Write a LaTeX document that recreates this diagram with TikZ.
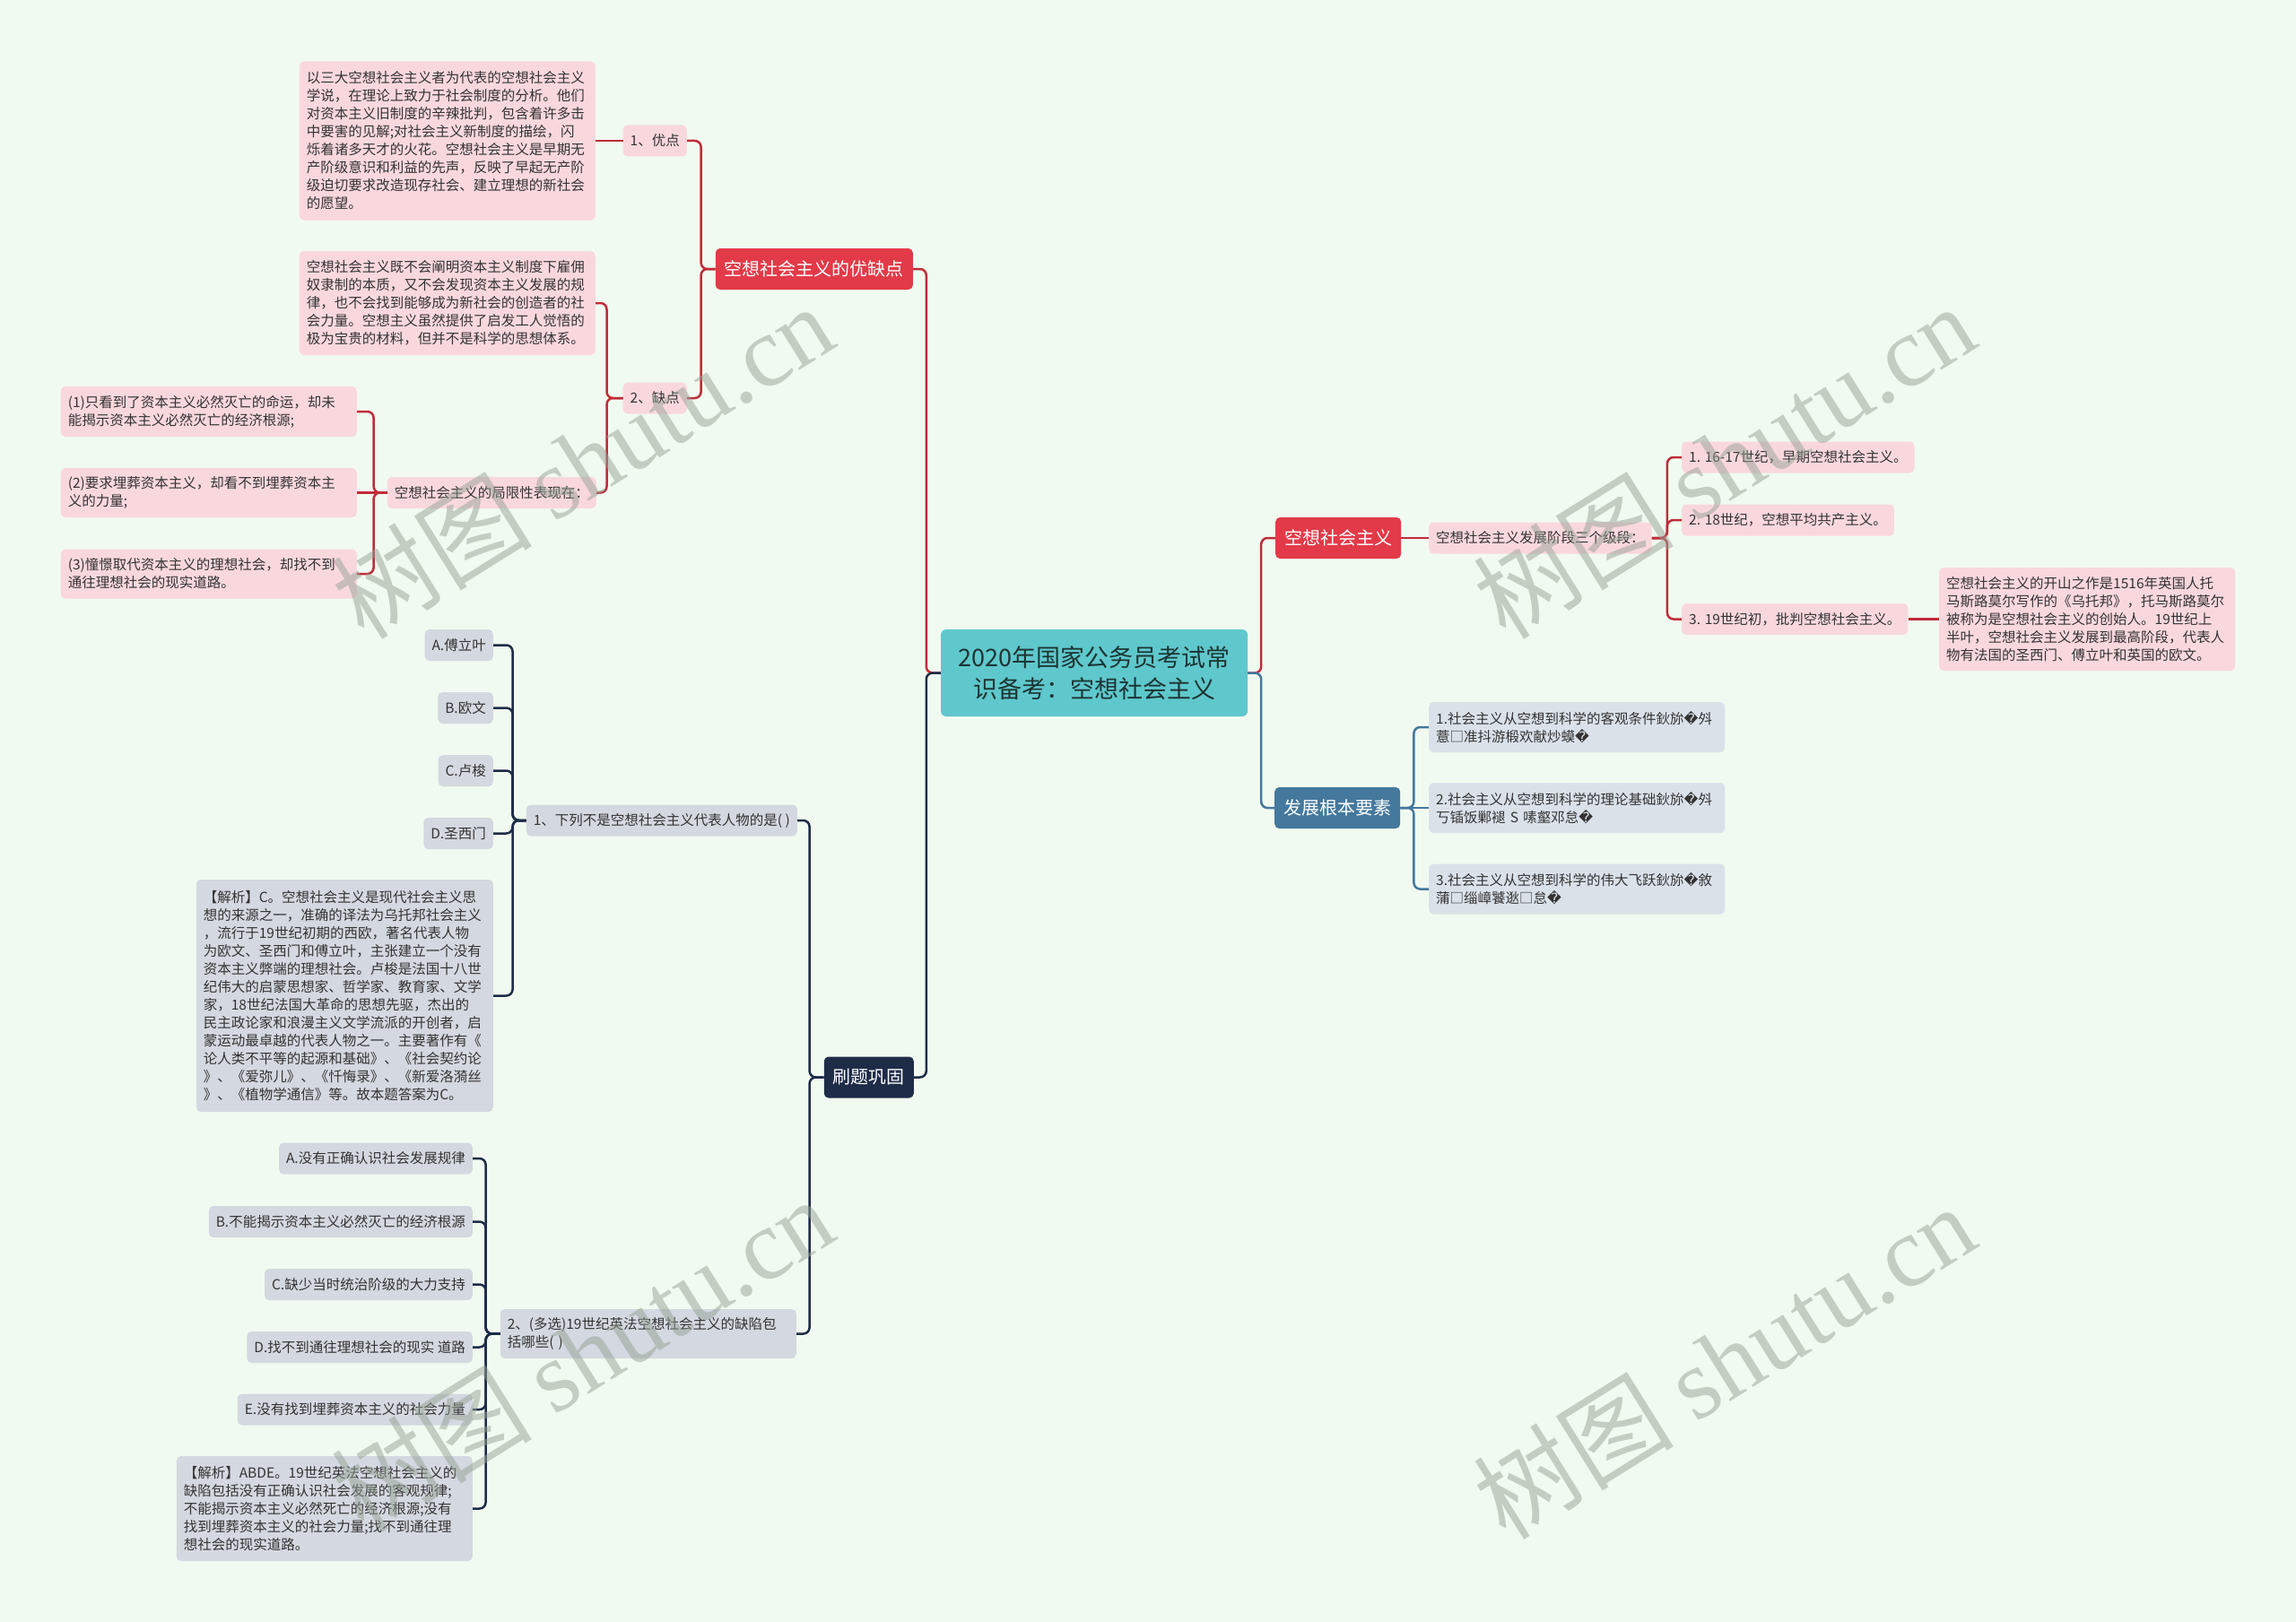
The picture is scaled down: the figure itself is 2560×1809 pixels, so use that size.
\documentclass[tikz,border=0pt]{standalone}
\usepackage{fontspec}
\setmainfont{Noto Sans CJK SC}
\newfontfamily\djv{DejaVu Sans}
\newfontfamily\wmserif{Liberation Serif}
\newcommand{\rpc}{{\djv\char"FFFD}}
\definecolor{bgc}{RGB}{241,250,240}
\definecolor{redm}{RGB}{226,58,72}
\definecolor{redl}{RGB}{192,44,56}
\definecolor{pinkf}{RGB}{249,216,221}
\definecolor{tealc}{RGB}{95,200,204}
\definecolor{navyc}{RGB}{30,44,72}
\definecolor{grayf}{RGB}{212,216,224}
\definecolor{steel}{RGB}{68,120,157}
\definecolor{lightb}{RGB}{218,225,233}
\definecolor{txt}{RGB}{51,51,51}
\definecolor{ctxt}{RGB}{28,52,52}
\definecolor{wmc}{RGB}{150,162,150}
\tikzset{
  base/.style={rounded corners=5pt, inner xsep=8pt, inner ysep=0pt, font=\fontsize{15.5}{20}\selectfont, text=txt, align=left},
  pinkbox/.style={base, fill=pinkf},
  graybox/.style={base, fill=grayf},
  bluebox/.style={base, fill=lightb},
  one/.style={minimum height=35pt},
  mainbox/.style={rounded corners=5pt, text=white, font=\fontsize{20}{24}\selectfont, inner xsep=10pt, inner ysep=0pt, minimum height=46pt},
  centralbox/.style={rounded corners=6pt, fill=tealc, text=ctxt, align=center, minimum width=342pt, minimum height=97pt, font=\fontsize{27}{35}\selectfont},
  redln/.style={draw=redl, line width=2.5pt, rounded corners=7pt},
  navyln/.style={draw=navyc, line width=2.5pt, rounded corners=7pt},
  steelln/.style={draw=steel, line width=2.5pt, rounded corners=7pt},
  wmk/.style={text=wmc, opacity=0.5, font=\fontsize{112}{120}\selectfont, inner sep=0pt}
}
\begin{document}
\begin{tikzpicture}[x=1pt,y=-1pt]
\fill[bgc] (0,0) rectangle (2560,1809);
\useasboundingbox (0,0) rectangle (2560,1809);

% central
\node[centralbox] (c) at (1220,750.5) {2020年国家公务员考试常\\识备考：空想社会主义};

% upper-left branch
\node[mainbox, fill=redm, anchor=east] (yqd) at (1018,300) {空想社会主义的优缺点};
\node[pinkbox, one, anchor=east] (yd) at (766,157) {1、优点};
\node[pinkbox, one, anchor=east] (qd) at (766,444) {2、缺点};
\node[pinkbox, anchor=east, text width=314pt, minimum height=177pt] (ydt) at (664,157) {以三大空想社会主义者为代表的空想社会主义\\学说，在理论上致力于社会制度的分析。他们\\对资本主义旧制度的辛辣批判，包含着许多击\\中要害的见解;对社会主义新制度的描绘，闪\\烁着诸多天才的火花。空想社会主义是早期无\\产阶级意识和利益的先声，反映了早起无产阶\\级迫切要求改造现存社会、建立理想的新社会\\的愿望。};
\node[pinkbox, anchor=east, text width=314pt, minimum height=116pt] (qdt) at (664,338) {空想社会主义既不会阐明资本主义制度下雇佣\\奴隶制的本质，又不会发现资本主义发展的规\\律，也不会找到能够成为新社会的创造者的社\\会力量。空想主义虽然提供了启发工人觉悟的\\极为宝贵的材料，但并不是科学的思想体系。};
\node[pinkbox, one, anchor=east] (jxx) at (665,549.5) {空想社会主义的局限性表现在：};
\node[pinkbox, anchor=east, text width=314pt, minimum height=56pt] (j1) at (398,459) {(1)只看到了资本主义必然灭亡的命运，却未\\能揭示资本主义必然灭亡的经济根源;};
\node[pinkbox, anchor=east, text width=314pt, minimum height=55pt] (j2) at (398,549.5) {(2)要求埋葬资本主义，却看不到埋葬资本主\\义的力量;};
\node[pinkbox, anchor=east, text width=314pt, minimum height=55pt] (j3) at (398,640) {(3)憧憬取代资本主义的理想社会，却找不到\\通往理想社会的现实道路。};

% right upper branch
\node[mainbox, fill=redm, anchor=west] (kx) at (1422,600) {空想社会主义};
\node[pinkbox, one, anchor=west] (jd) at (1593,600) {空想社会主义发展阶段三个级段：};
\node[pinkbox, one, anchor=west] (s1) at (1875,510) {1. 16-17世纪，早期空想社会主义。};
\node[pinkbox, one, anchor=west] (s2) at (1875,580) {2. 18世纪，空想平均共产主义。};
\node[pinkbox, one, anchor=west] (s3) at (1875,690.5) {3. 19世纪初，批判空想社会主义。};
\node[pinkbox, anchor=west, text width=314pt, minimum height=115pt] (s3t) at (2162,690.5) {空想社会主义的开山之作是1516年英国人托\\马斯路莫尔写作的《乌托邦》，托马斯路莫尔\\被称为是空想社会主义的创始人。19世纪上\\半叶，空想社会主义发展到最高阶段，代表人\\物有法国的圣西门、傅立叶和英国的欧文。};

% right lower branch
\node[mainbox, fill=steel, anchor=west] (fz) at (1421,901) {发展根本要素};
\node[bluebox, anchor=west, text width=314pt, minimum height=56pt] (f1) at (1593,811) {1.社会主义从空想到科学的客观条件鈥旀\rpc 斘\\薏□准抖游椴欢献炒蟆\rpc};
\node[bluebox, anchor=west, text width=314pt, minimum height=56pt] (f2) at (1593,901) {2.社会主义从空想到科学的理论基础鈥旀\rpc 斘\\丂锸饭鄛褪 S 嗉壑邓怠\rpc};
\node[bluebox, anchor=west, text width=314pt, minimum height=56pt] (f3) at (1593,991.5) {3.社会主义从空想到科学的伟大飞跃鈥旀\rpc 敘\\蒲□缁嶂饕逖□怠\rpc};

% lower-left branch
\node[mainbox, fill=navyc, anchor=east] (sh) at (1019,1201.5) {刷题巩固};
\node[graybox, one, anchor=east] (q1) at (889,915) {1、下列不是空想社会主义代表人物的是( )};
\node[graybox, one, anchor=east] (a1) at (550,719.5) {A.傅立叶};
\node[graybox, one, anchor=east] (b1) at (550,789.5) {B.欧文};
\node[graybox, one, anchor=east] (c1) at (550,859.5) {C.卢梭};
\node[graybox, one, anchor=east] (d1) at (550,929.5) {D.圣西门};
\node[graybox, anchor=east, text width=315pt, minimum height=259pt] (jc) at (550,1110.5) {【解析】C。空想社会主义是现代社会主义思\\想的来源之一，准确的译法为乌托邦社会主义\\，流行于19世纪初期的西欧，著名代表人物\\为欧文、圣西门和傅立叶，主张建立一个没有\\资本主义弊端的理想社会。卢梭是法国十八世\\纪伟大的启蒙思想家、哲学家、教育家、文学\\家，18世纪法国大革命的思想先驱，杰出的\\民主政论家和浪漫主义文学流派的开创者，启\\蒙运动最卓越的代表人物之一。主要著作有《\\论人类不平等的起源和基础》、《社会契约论\\》、《爱弥儿》、《忏悔录》、《新爱洛漪丝\\》、《植物学通信》等。故本题答案为C。};
\node[graybox, anchor=east, text width=314pt, minimum height=55pt] (q2) at (888,1487.5) {2、(多选)19世纪英法空想社会主义的缺陷包\\括哪些( )};
\node[graybox, one, anchor=east] (a2) at (527,1292) {A.没有正确认识社会发展规律};
\node[graybox, one, anchor=east] (b2) at (527,1362.5) {B.不能揭示资本主义必然灭亡的经济根源};
\node[graybox, one, anchor=east] (c2) at (527,1432.5) {C.缺少当时统治阶级的大力支持};
\node[graybox, one, anchor=east] (d2) at (527,1502.5) {D.找不到通往理想社会的现实 道路};
\node[graybox, one, anchor=east] (e2) at (527,1572) {E.没有找到埋葬资本主义的社会力量};
\node[graybox, anchor=east, text width=314pt, minimum height=117pt] (ja) at (527,1682.5) {【解析】ABDE。19世纪英法空想社会主义的\\缺陷包括没有正确认识社会发展的客观规律;\\不能揭示资本主义必然死亡的经济根源;没有\\找到埋葬资本主义的社会力量;找不到通往理\\想社会的现实道路。};

% connectors
\draw[redln] (c.west) -- ++(-16,0) |- (yqd.east);
\draw[navyln] (c.west) -- ++(-16,0) |- (sh.east);
\draw[redln] (c.east) -- ++(15,0) |- (kx.west);
\draw[steelln] (c.east) -- ++(15,0) |- (fz.west);

\draw[redln] (yqd.west) -- ++(-16,0) |- (yd.east);
\draw[redln] (yqd.west) -- ++(-16,0) |- (qd.east);
\draw[redln] (yd.west) -- (ydt.east);
\draw[redln] (qd.west) -- ++(-18,0) |- (qdt.east);
\draw[redln] (qd.west) -- ++(-18,0) |- (jxx.east);
\draw[redln] (jxx.west) -- ++(-15,0) |- (j1.east);
\draw[redln] (jxx.west) -- (j2.east);
\draw[redln] (jxx.west) -- ++(-15,0) |- (j3.east);

\draw[redln] (kx.east) -- (jd.west);
\draw[redln] (jd.east) -- ++(17,0) |- (s1.west);
\draw[redln] (jd.east) -- ++(17,0) |- (s2.west);
\draw[redln] (jd.east) -- ++(17,0) |- (s3.west);
\draw[redln] (s3.east) -- (s3t.west);

\draw[steelln] (fz.east) -- ++(15,0) |- (f1.west);
\draw[steelln] (fz.east) -- (f2.west);
\draw[steelln] (fz.east) -- ++(15,0) |- (f3.west);

\draw[navyln] (sh.west) -- ++(-16,0) |- (q1.east);
\draw[navyln] (sh.west) -- ++(-16,0) |- (q2.east);
\foreach \n in {a1,b1,c1,d1,jc} {\draw[navyln] (q1.west) -- ++(-15,0) |- (\n.east);}
\foreach \n in {a2,b2,c2,d2,e2,ja} {\draw[navyln] (q2.west) -- ++(-16,0) |- (\n.east);}

% watermarks
\node[wmk, rotate=32] (w1) at (649,514) {树图 {\wmserif shutu.cn}};
\node[wmk, rotate=32] (w2) at (1922,514) {树图 {\wmserif shutu.cn}};
\node[wmk, rotate=32] (w3) at (649,1510) {树图 {\wmserif shutu.cn}};
\node[wmk, rotate=32] (w4) at (1922,1518) {树图 {\wmserif shutu.cn}};
\end{tikzpicture}
\end{document}
